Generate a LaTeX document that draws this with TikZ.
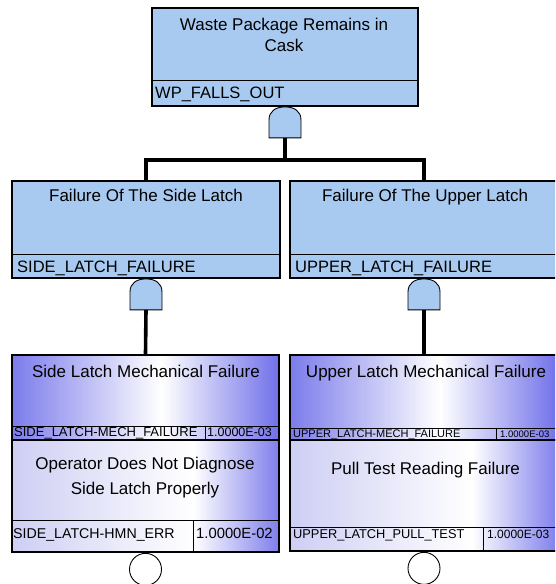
\documentclass[tikz,border=0pt]{standalone}
\usepackage{fontspec}
\setmainfont{Liberation Sans}
\usetikzlibrary{positioning}

\definecolor{gateblue}{RGB}{168,202,240}
\definecolor{evblue}{RGB}{112,112,234}
\definecolor{evpale}{RGB}{206,206,244}

% basic event shadings (white band a bit right of centre)
\pgfdeclarehorizontalshading{mechshade}{100bp}{color(0bp)=(evblue); color(25bp)=(evblue!92!white);
  color(53bp)=(white); color(75bp)=(evblue); color(100bp)=(evblue)}
\pgfdeclarehorizontalshading{lowshade}{100bp}{color(0bp)=(evpale); color(25bp)=(evpale);
  color(59bp)=(white); color(75bp)=(evblue!90!white); color(100bp)=(evblue!90!white)}

\tikzset{
  gatebox/.style={draw,line width=1.8pt,fill=gateblue,inner sep=0pt},
  evbox/.style={draw,line width=1.8pt,inner sep=0pt,shade},
  divline/.style={line width=0.9pt},
  title/.style={anchor=north,inner sep=0pt,align=center,font=\fontsize{17}{21}\selectfont},
  idtext/.style={anchor=base west,inner sep=0pt},
  conn/.style={line width=3.6pt},
  andgate/.pic={
    \draw[line width=0.9pt,fill=gateblue] (-16,0) -- (-16,-18)
      .. controls (-16,-27) and (-9,-31) .. (0,-31)
      .. controls (9,-31) and (16,-27) .. (16,-18) -- (16,0) -- cycle;
  },
}

\begin{document}
\begin{tikzpicture}[x=1pt,y=-1pt]
\clip (0,0) rectangle (555,584);

% top event
\node[gatebox,minimum width=266pt,minimum height=98pt] (wp) at (285,57) {};
\draw[divline] (152,80) -- (418,80);
\node[title] (wptitle) at (284,18) {Waste Package Remains in\\Cask};
\node[idtext,font=\fontsize{16.5}{16.5}\selectfont] (wpid) at (155,98) {WP\_FALLS\_OUT};
\coordinate (g0) at ([yshift=-31pt]wp.south);
\pic at (g0) {andgate};
\coordinate (bar) at ([yshift=-22pt]g0);

% intermediate events
\node[gatebox,minimum width=268pt,minimum height=97pt] (side) at (146,229.5) {};
\draw[divline] (12,254) -- (280,254);
\node[title] (sidetitle) at (146,189) {Failure Of The Side Latch};
\node[idtext,font=\fontsize{16.5}{16.5}\selectfont] (sideid) at (17,272) {SIDE\_LATCH\_FAILURE};

\node[gatebox,minimum width=268pt,minimum height=97pt] (upper) at (424,229.5) {};
\draw[divline] (290,254) -- (558,254);
\node[title] (uppertitle) at (425,189) {Failure Of The Upper Latch};
\node[idtext,font=\fontsize{16.5}{16.5}\selectfont] (upperid) at (295,272) {UPPER\_LATCH\_FAILURE};

\draw[conn] (g0) -- (bar);
\draw[conn] (side.north) |- (bar) -| (upper.north);

\coordinate (g1) at ([yshift=-31pt]side.south);
\coordinate (g2) at ([yshift=-31pt]upper.south);
\pic at (g1) {andgate};
\pic at (g2) {andgate};

% basic events, side latch
\node[evbox,shading=mechshade,minimum width=267pt,minimum height=85pt] (sidemech) at (145.5,397.5) {};
\draw[divline] (12,426) -- (279,426) (205,426) -- (205,440);
\node[title] (sidemechtitle) at (146,365) {Side Latch Mechanical Failure};
\node[idtext,font=\fontsize{13}{13}\selectfont] (sidemechid) at (14,436) {SIDE\_LATCH-MECH\_FAILURE};
\node[idtext,font=\fontsize{12.5}{12.5}\selectfont] (sidemechp) at (207,436) {1.0000E-03};

\node[evbox,shading=lowshade,minimum width=267pt,minimum height=112pt] (sidehmn) at (145.5,496) {};
\draw[divline] (12,520) -- (279,520) (193,520) -- (193,552);
\node[title,font=\fontsize{17}{25}\selectfont] (sidehmntitle) at (145,457) {Operator Does Not Diagnose\\Side Latch Properly};
\node[idtext,font=\fontsize{14.2}{14.2}\selectfont] (sidehmnid) at (13,538) {SIDE\_LATCH-HMN\_ERR};
\node[idtext,font=\fontsize{14.8}{14.8}\selectfont] (sidehmnp) at (196,538) {1.0000E-02};
\node[draw,circle,line width=0.9pt,minimum size=32pt,inner sep=0pt,anchor=north] (sidehmnev) at (sidehmn.south) {};

% basic events, upper latch
\node[evbox,shading=mechshade,minimum width=268pt,minimum height=85pt] (uppermech) at (424,397.5) {};
\draw[divline] (290,428) -- (558,428) (496,428) -- (496,440);
\node[title] (uppermechtitle) at (426,365) {Upper Latch Mechanical Failure};
\node[idtext,font=\fontsize{11}{11}\selectfont] (uppermechid) at (293,437) {UPPER\_LATCH-MECH\_FAILURE};
\node[idtext,font=\fontsize{9.5}{9.5}\selectfont] (uppermechp) at (500,437) {1.0000E-03};

\node[evbox,shading=lowshade,minimum width=268pt,minimum height=111pt] (upperpull) at (424,495.5) {};
\draw[divline] (290,527) -- (558,527) (483,527) -- (483,551);
\node[title] (upperpulltitle) at (425.5,462) {Pull Test Reading Failure};
\node[idtext,font=\fontsize{12.8}{12.8}\selectfont] (upperpullid) at (293,538) {UPPER\_LATCH\_PULL\_TEST};
\node[idtext,font=\fontsize{12}{12}\selectfont] (upperpullp) at (487,538) {1.0000E-03};
\node[draw,circle,line width=0.9pt,minimum size=32pt,inner sep=0pt,anchor=north] (upperpullev) at (upperpull.south) {};

\draw[conn] (g1) -- (sidemech.north);
\draw[conn] (g2) -- (uppermech.north);
\end{tikzpicture}
\end{document}
